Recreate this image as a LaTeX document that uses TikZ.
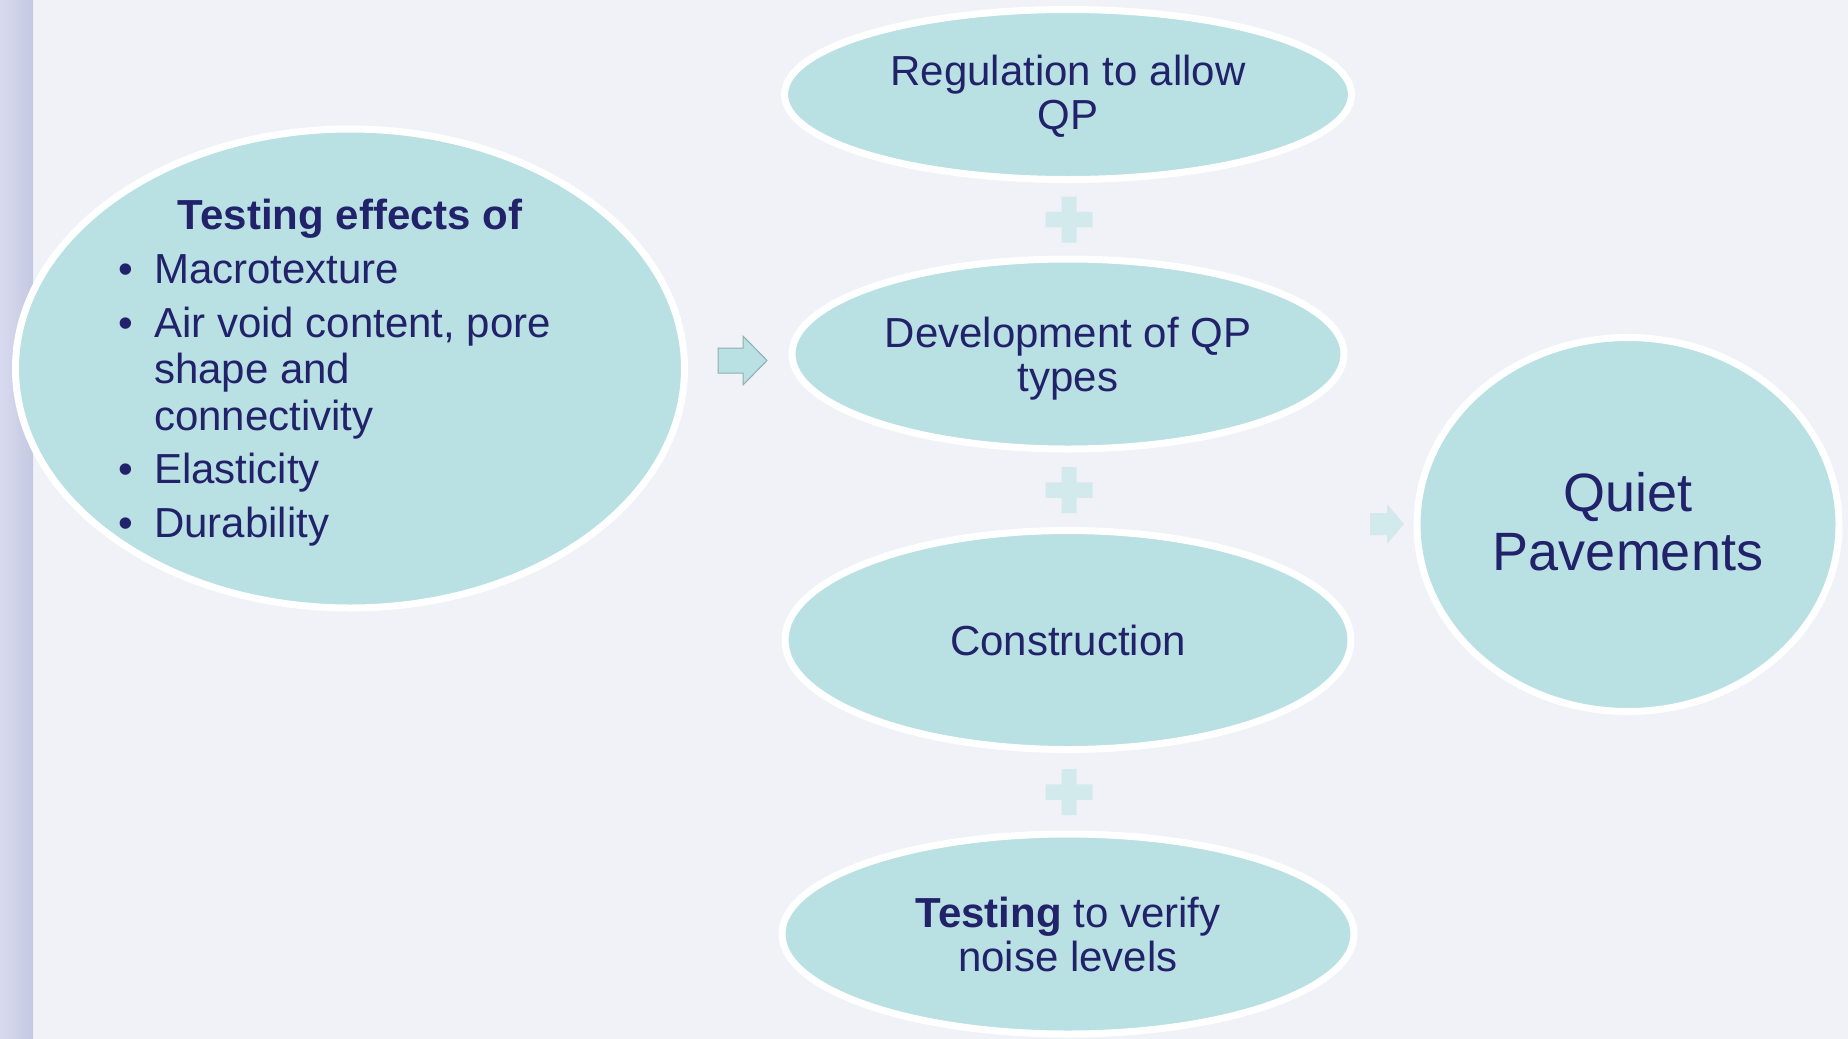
\documentclass[tikz,border=0pt]{standalone}
\usepackage{fontspec}
\setmainfont{Liberation Sans}
\usetikzlibrary{shapes.geometric}
\definecolor{bgpanel}{HTML}{F0F2F8}
\definecolor{stripL}{HTML}{D8DBEF}
\definecolor{stripR}{HTML}{C4C8E1}
\definecolor{bubble}{HTML}{B9E0E3}
\definecolor{ink}{HTML}{22226A}
\definecolor{faint}{HTML}{D3EAEC}
\definecolor{arrowedge}{HTML}{8EAEB0}
\tikzset{
  bubble/.style={ellipse, draw=white, line width=7pt, fill=bubble, inner sep=0pt,
    text=ink, align=center, font=\fontsize{42}{44}\selectfont},
  plussign/.pic={
    \fill[faint] (-23.5,-7.75) rectangle (23.5,7.75)
                 (-7.5,-23) rectangle (7.5,23);
  },
}
\begin{document}
\begin{tikzpicture}[x=1pt,y=-1pt]
\useasboundingbox (0,0) rectangle (1848,1039);
% slide background and side strip
\fill[bgpanel] (0,0) rectangle (1848,1039);
\shade[left color=stripL, right color=stripR] (0,0) rectangle (33,1039);

% left bubble with the list of tested effects
\node[bubble, minimum width=669pt, minimum height=479pt] (effects) at (350,368.5) {};
\node[anchor=base west, inner sep=0pt, text=ink] (effectlist) at (118,229.5) {\vtop{%
  \hsize=460pt\fontsize{42}{46.5}\selectfont\lineskiplimit=-100pt
  \hbox{\kern232pt\makebox[0pt]{\bfseries Testing effects of}}
  \vskip7.5pt
  \hbox{\makebox[36pt][l]{\textbullet}Macrotexture}
  \vskip7pt
  \hbox{\makebox[36pt][l]{\textbullet}Air void content, pore}
  \hbox{\kern36pt shape and}
  \hbox{\kern36pt connectivity}
  \vskip7pt
  \hbox{\makebox[36pt][l]{\textbullet}Elasticity}
  \vskip7pt
  \hbox{\makebox[36pt][l]{\textbullet}Durability}}};

% arrow from the tests to the chain of steps
\filldraw[fill=bubble, draw=arrowedge, line width=1pt, line join=miter]
  (718,348) -- (743,348) -- (743,336) -- (767,360.5) -- (743,385)
  -- (743,373) -- (718,373) -- cycle;

% chain of steps
\node[bubble, minimum width=567pt, minimum height=170pt] (regulation) at (1068,94.5)
  {\raisebox{-4.5pt}[\height][\depth]{\begin{tabular}{@{}c@{}}Regulation to allow\\QP\end{tabular}}};
\node[bubble, minimum width=552pt, minimum height=190pt] (development) at (1068,354)
  {\raisebox{-7pt}[\height][\depth]{\begin{tabular}{@{}c@{}}Development of QP\\types\end{tabular}}};
\node[bubble, minimum width=566pt, minimum height=219pt] (construction) at (1068,640)
  {Construction};
\node[bubble, minimum width=572pt, minimum height=200pt] (verification) at (1068,934)
  {\textbf{Testing} to verify\\noise levels};

\pic at (1069,219.5) {plussign};
\pic at (1069,490) {plussign};
\pic at (1069,792) {plussign};

% arrow to the outcome
\fill[faint] (1370,513) -- (1387,513) -- (1387,504) -- (1404,524) -- (1387,544)
  -- (1387,535) -- (1370,535) -- cycle;

\node[bubble, minimum width=422pt, minimum height=374pt,
  font=\fontsize{54}{59}\selectfont] (outcome) at (1628,524.5)
  {\raisebox{-5pt}[\height][\depth]{\begin{tabular}{@{}c@{}}Quiet\\Pavements\end{tabular}}};
\end{tikzpicture}
\end{document}
